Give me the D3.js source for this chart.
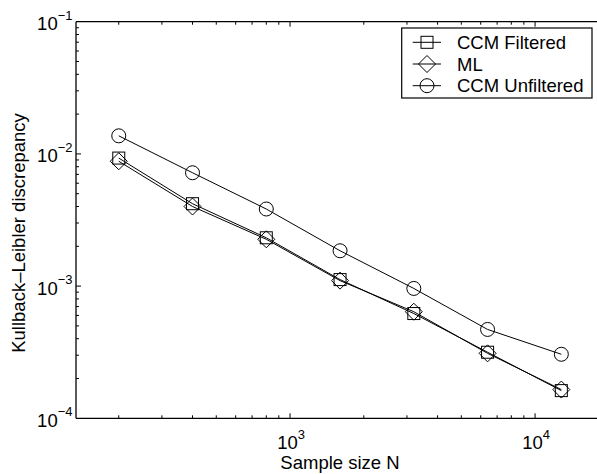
<!DOCTYPE html>
<html>
<head>
<meta charset="utf-8">
<script src="https://cdn.jsdelivr.net/npm/d3@7"></script>
<style>
  body { margin: 0; background: #fff; }
  text { font-family: "Liberation Sans", Arial, sans-serif; fill: #000; }
</style>
</head>
<body>
<div class="canvas"></div>
<script>
// data
const sampleSizes = [200, 400, 800, 1600, 3200, 6400, 12800];
const ccmFiltered = [0.0093, 0.0042, 0.00232, 0.00112, 0.00062, 0.000316, 0.000162];
const mlValues = [0.0088, 0.0040, 0.00226, 0.00110, 0.00064, 0.00031, 0.000165];
const ccmUnfiltered = [0.0137, 0.0072, 0.00383, 0.00185, 0.00096, 0.00047, 0.000305];
const seriesNames = ['CCM Filtered', 'ML', 'CCM Unfiltered'];
const xMajorTicks = [1e3, 1e4];
const yMajorTicks = [1e-4, 1e-3, 1e-2, 1e-1];

const dims = {width: 597, height: 474};
const plot = {left: 76, right: 600, top: 21.7, bottom: 418.3};

const svg = d3.select('.canvas')
  .append('svg')
  .attr('width', dims.width)
  .attr('height', dims.height);

const x = d3.scaleLog()
  .domain([Math.pow(10, 2.1265), Math.pow(10, 4.265)])
  .range([plot.left, plot.right]);

const y = d3.scaleLog()
  .domain([1e-4, 1e-1])
  .range([plot.bottom, plot.top]);

// frame
const frame = svg.append('g')
  .attr('stroke', '#000')
  .attr('stroke-width', 1.3)
  .attr('fill', 'none');
frame.append('line').attr('x1', plot.left).attr('x2', plot.right).attr('y1', plot.bottom).attr('y2', plot.bottom);
frame.append('line').attr('x1', plot.left).attr('x2', plot.right).attr('y1', plot.top).attr('y2', plot.top);
frame.append('line').attr('x1', plot.left).attr('x2', plot.left).attr('y1', plot.top).attr('y2', plot.bottom);

// ticks
const isMajor = v => Math.abs(Math.log10(v) - Math.round(Math.log10(v))) < 1e-9;
const xTicks = x.ticks().filter(v => x(v) > plot.left + 1 && x(v) < dims.width);
const yTicks = y.ticks().filter(v => y(v) > plot.top + 1 && y(v) < plot.bottom - 1);

const ticks = svg.append('g').attr('stroke', '#000').attr('stroke-width', 1);
xTicks.forEach(v => {
  const len = isMajor(v) ? 5 : 3;
  ticks.append('line').attr('x1', x(v)).attr('x2', x(v))
    .attr('y1', plot.bottom).attr('y2', plot.bottom - len);
  ticks.append('line').attr('x1', x(v)).attr('x2', x(v))
    .attr('y1', plot.top).attr('y2', plot.top + len);
});
yTicks.forEach(v => {
  const len = isMajor(v) ? 5 : 3;
  ticks.append('line').attr('x1', plot.left).attr('x2', plot.left + len)
    .attr('y1', y(v)).attr('y2', y(v));
});

// tick labels
xMajorTicks.forEach(v => {
  const t = svg.append('text')
    .attr('x', x(v) + 1)
    .attr('y', 448.5)
    .attr('text-anchor', 'middle')
    .style('font-size', '18.5px');
  t.append('tspan').text('10');
  t.append('tspan').attr('dy', -10).style('font-size', '13px').text(Math.round(Math.log10(v)));
});
yMajorTicks.forEach(v => {
  const t = svg.append('text')
    .attr('x', 72.5)
    .attr('y', y(v) + 8.5)
    .attr('text-anchor', 'end')
    .style('font-size', '18.5px');
  t.append('tspan').text('10');
  t.append('tspan').attr('dy', -10.5).style('font-size', '13px').text('\u2212' + Math.abs(Math.round(Math.log10(v))));
});

// axis labels
svg.append('text')
  .attr('x', 340)
  .attr('y', 469)
  .attr('text-anchor', 'middle')
  .style('font-size', '18.5px')
  .text('Sample size N');

svg.append('text')
  .attr('transform', `translate(24.5, 233) rotate(-90)`)
  .attr('text-anchor', 'middle')
  .style('font-size', '18.5px')
  .text('Kullback\u2013Leibler discrepancy');

// markers
const markers = {
  square: (g, cx, cy) => g.append('rect')
    .attr('x', cx - 6).attr('y', cy - 6).attr('width', 12).attr('height', 12),
  diamond: (g, cx, cy) => g.append('path')
    .attr('d', `M${cx},${cy - 8.5}L${cx + 8.5},${cy}L${cx},${cy + 8.5}L${cx - 8.5},${cy}Z`),
  circle: (g, cx, cy) => g.append('circle')
    .attr('cx', cx).attr('cy', cy).attr('r', 7)
};

const series = [
  {name: seriesNames[0], values: ccmFiltered, marker: 'square'},
  {name: seriesNames[1], values: mlValues, marker: 'diamond'},
  {name: seriesNames[2], values: ccmUnfiltered, marker: 'circle'}
];

const line = d3.line()
  .x(d => x(d[0]))
  .y(d => y(d[1]));

const graph = svg.append('g')
  .attr('fill', 'none')
  .attr('stroke', '#000')
  .attr('stroke-width', 1);

series.forEach(s => {
  const pts = sampleSizes.map((n, i) => [n, s.values[i]]);
  graph.append('path').attr('d', line(pts));
  pts.forEach(p => markers[s.marker](graph, x(p[0]), y(p[1])));
});

// legend
const legend = svg.append('g');
legend.append('rect')
  .attr('x', 401.7).attr('y', 28)
  .attr('width', 190.3).attr('height', 70)
  .attr('fill', '#fff')
  .attr('stroke', '#000')
  .attr('stroke-width', 1.2);

const rowY = [42.3, 64, 85.7];
series.forEach((s, i) => {
  const g = legend.append('g').attr('fill', 'none').attr('stroke', '#000').attr('stroke-width', 1);
  g.append('line').attr('x1', 412.7).attr('x2', 441).attr('y1', rowY[i]).attr('y2', rowY[i]);
  markers[s.marker](g, 427, rowY[i]);
  legend.append('text')
    .attr('x', 457)
    .attr('y', rowY[i] + 6.5)
    .style('font-size', '18.5px')
    .text(s.name);
});
</script>
</body>
</html>
